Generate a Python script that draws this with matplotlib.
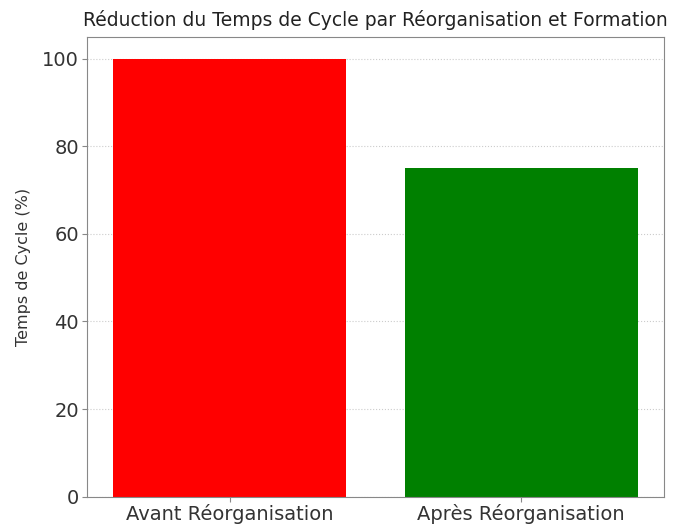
import matplotlib
matplotlib.use("Agg")
import matplotlib.pyplot as plt

CATEGORIES = ["Avant Réorganisation", "Après Réorganisation"]
CYCLE_TIME = [100, 75]
COLORS = ["red", "green"]

plt.rcParams["font.family"] = ["DejaVu Sans"]

fig, ax = plt.subplots(figsize=(6.94, 5.24), dpi=100)
ax.bar(CATEGORIES, CYCLE_TIME, color=COLORS, width=0.8)

ax.set_title("Réduction du Temps de Cycle par Réorganisation et Formation", fontsize=13.5, pad=8, color="#222222")
ax.set_ylabel("Temps de Cycle (%)", fontsize=11.5, color="#333333", labelpad=8)
ax.tick_params(axis="both", labelsize=14, labelcolor="#333333", color="#888888", pad=2)
ax.grid(axis="y", linestyle=":", color="#cccccc", linewidth=0.8)
ax.set_axisbelow(True)
for side in ax.spines.values():
    side.set_color("#888888")

fig.subplots_adjust(left=0.125, right=0.957, top=0.93, bottom=0.052)
fig.savefig("out.png", dpi=100)
